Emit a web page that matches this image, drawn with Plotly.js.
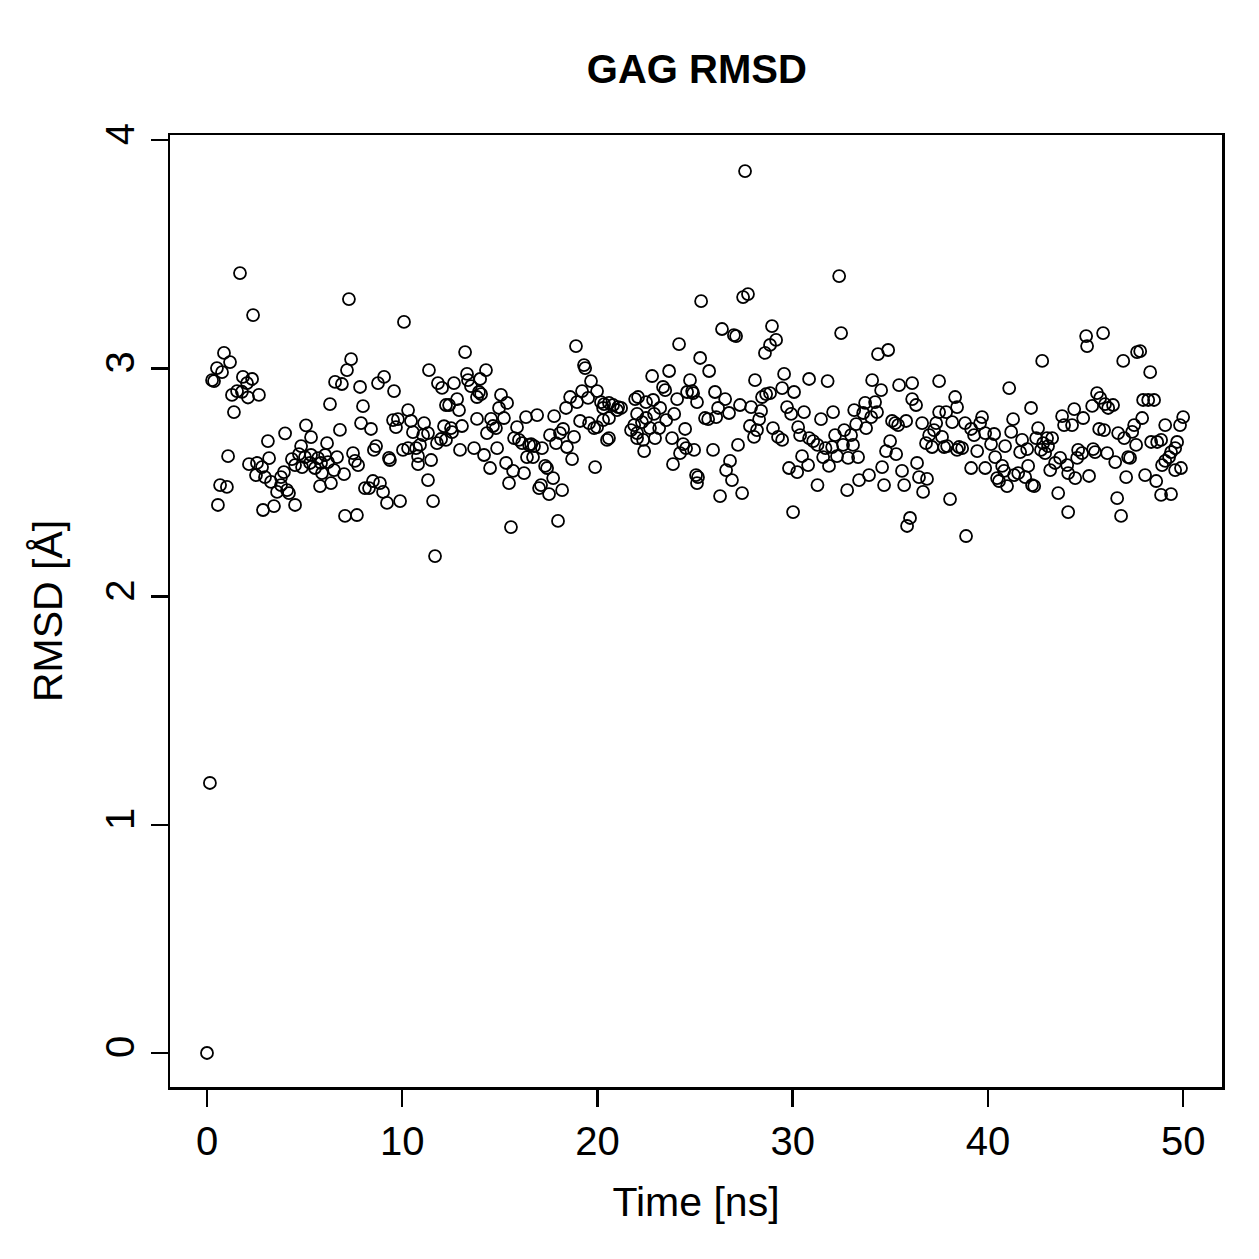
<!DOCTYPE html>
<html>
<head>
<meta charset="utf-8">
<script src="https://cdn.plot.ly/plotly-3.0.1.min.js"></script>
<style>html,body{margin:0;padding:0;background:#fff;}#chart{width:1259px;height:1259px;}</style>
</head>
<body>
<div id="chart"></div>
<script>
// Time [ns]
const time = [
0,0.15,1.69,2.36,0.87,1.18,0.51,0.77,0.26,0.36,1.84,2.31,2.05,1.54,1.28,1.79,2.10,2.66,1.38,3.12,1.08,2.15,2.56,2.82,3.18,2.51,2.97,3.28,3.59,0.67,1.02,0.56,2.87,3.43,
7.27,7.38,7.17,6.56,6.91,7.84,6.30,7.99,7.89,5.07,4.00,5.33,6.81,6.15,4.82,7.48,4.35,4.71,5.02,5.33,5.69,6.05,6.66,7.58,7.74,4.51,4.87,5.28,5.53,5.84,6.20,6.51,7.02,5.89,3.94,3.79,3.79,4.10,4.20,4.51,5.79,6.35,7.07,7.68,8.09,
10.09,11.37,9.07,8.76,9.58,11.83,12.04,10.30,12.24,9.53,9.78,9.68,10.45,11.12,10.55,11.07,11.32,12.14,8.40,8.66,8.55,9.32,9.37,10.04,10.30,10.71,10.91,10.81,11.78,11.99,11.48,10.81,8.50,8.86,8.30,9.02,9.22,9.89,11.32,11.58,11.68,
13.22,14.29,13.32,13.37,13.99,12.65,13.52,13.93,14.04,13.83,12.81,12.40,12.91,15.06,15.37,14.96,14.55,15.21,13.83,13.06,12.50,12.55,12.24,14.65,14.80,14.34,16.34,15.88,15.73,15.98,16.14,16.50,16.39,14.86,12.96,13.68,14.19,14.50,15.32,15.68,16.24,15.47,15.57,
18.90,19.31,19.37,19.67,19.98,19.21,18.60,19.52,18.95,18.39,20.18,20.34,20.29,20.59,16.91,17.78,19.11,19.57,19.83,19.98,20.29,20.59,18.24,18.08,17.57,18.80,17.88,18.44,18.70,16.60,16.75,17.16,16.70,17.32,17.42,17.73,17.11,17.01,17.52,18.19,19.88,20.59,20.49,17.98,
24.18,23.67,22.80,24.74,23.36,23.47,24.85,24.90,24.59,24.08,22.08,21.93,22.49,22.85,23.21,20.80,21.06,21.21,21.00,22.03,22.49,22.28,22.90,23.52,23.93,21.88,21.72,22.03,23.16,24.49,22.69,22.03,22.34,22.95,23.82,24.39,24.54,24.23,22.39,23.87,25.05,25.10,
25.31,27.46,27.71,26.38,26.99,27.10,28.94,29.15,28.84,28.58,25.26,25.72,28.07,25.10,26.02,26.54,26.18,26.74,27.30,27.87,28.38,28.43,28.64,28.84,25.51,25.67,26.08,28.28,27.81,28.17,28.02,28.99,29.25,27.20,25.92,26.79,26.59,26.89,25.15,24.95,26.28,27.41,27.56,
32.38,32.48,29.56,29.46,30.07,30.84,31.79,29.71,29.92,30.58,31.45,32.07,33.15,33.25,29.46,30.28,30.38,30.84,31.05,31.27,31.68,32.17,32.64,32.99,32.58,33.09,32.02,31.56,32.27,32.84,33.35,30.48,30.79,29.81,30.23,31.86,31.27,32.79,33.40,30.02,
34.37,34.89,34.07,34.53,35.45,36.12,37.50,36.12,36.32,33.71,34.22,34.32,33.61,34.02,33.76,35.09,35.25,35.40,35.81,36.63,37.50,37.35,37.24,36.99,36.83,37.14,37.65,37.76,34.99,34.78,35.30,36.37,34.58,35.60,33.91,36.47,36.88,34.68,35.71,36.68,36.01,35.86,
41.09,38.32,38.42,37.86,38.17,38.83,39.70,39.60,39.14,39.29,39.86,40.32,40.16,37.91,38.52,38.68,38.42,39.45,40.88,41.29,41.19,41.75,42.01,41.65,40.37,39.14,39.86,40.73,40.83,40.47,40.57,40.98,41.34,41.55,41.91,38.06,38.88,
45.03,45.08,45.90,42.78,42.21,45.59,45.75,46.00,46.16,45.34,44.42,43.80,44.88,43.90,44.31,42.57,45.70,45.95,42.47,43.03,43.29,42.83,43.08,42.72,42.93,44.62,44.82,45.39,45.49,46.11,44.57,43.70,43.44,43.19,44.06,44.11,44.47,45.18,42.06,42.26,42.37,43.60,44.11,
46.93,47.64,47.80,48.31,47.95,48.21,48.51,46.41,50.00,47.90,49.08,49.84,47.49,47.39,46.67,46.98,47.59,48.36,48.67,48.87,49.69,49.59,49.38,49.28,49.08,48.92,49.59,49.89,46.52,47.18,47.28,47.08,48.05,48.62,48.87,49.38,46.62,46.82
];
// RMSD [Å]
const rmsd = [
0,1.183,3.417,3.233,3.067,3.027,3.001,2.983,2.948,2.944,2.962,2.953,2.935,2.900,2.883,2.897,2.872,2.883,2.808,2.681,2.615,2.580,2.585,2.567,2.606,2.532,2.523,2.502,2.458,2.488,2.480,2.401,2.379,2.396,
3.303,3.040,2.992,2.940,2.931,2.918,2.843,2.834,2.760,2.750,2.715,2.698,2.730,2.672,2.659,2.628,2.602,2.624,2.611,2.620,2.606,2.620,2.611,2.594,2.576,2.576,2.567,2.585,2.563,2.585,2.589,2.554,2.536,2.541,2.545,2.523,2.488,2.466,2.453,2.401,2.484,2.497,2.353,2.357,2.475,
3.203,2.992,2.962,2.935,2.900,2.935,2.914,2.817,2.839,2.773,2.777,2.742,2.769,2.760,2.720,2.707,2.716,2.746,2.734,2.659,2.642,2.607,2.598,2.642,2.650,2.650,2.664,2.615,2.672,2.690,2.598,2.580,2.506,2.497,2.475,2.458,2.410,2.418,2.510,2.418,2.177,
3.071,2.992,2.975,2.948,2.953,2.935,2.922,2.896,2.887,2.874,2.865,2.839,2.817,2.883,2.848,2.826,2.778,2.782,2.778,2.747,2.738,2.720,2.686,2.747,2.738,2.716,2.786,2.742,2.694,2.686,2.672,2.664,2.611,2.650,2.642,2.650,2.620,2.563,2.585,2.550,2.541,2.497,2.304,
3.097,3.014,3.001,2.944,2.900,2.900,2.874,2.870,2.852,2.826,2.852,2.843,2.826,2.848,2.795,2.790,2.769,2.760,2.738,2.742,2.773,2.782,2.734,2.716,2.707,2.699,2.672,2.655,2.602,2.668,2.659,2.650,2.611,2.572,2.563,2.519,2.488,2.475,2.449,2.466,2.567,2.694,2.686,2.331,
3.106,2.988,2.966,2.948,2.918,2.904,2.900,2.891,2.896,2.865,2.874,2.865,2.852,2.861,2.826,2.839,2.830,2.826,2.817,2.800,2.782,2.764,2.800,2.773,2.800,2.751,2.729,2.716,2.738,2.734,2.738,2.694,2.686,2.694,2.694,2.668,2.650,2.628,2.637,2.580,2.532,2.497,
3.294,3.312,3.325,3.172,3.145,3.141,3.185,3.124,3.102,3.067,3.045,2.988,2.948,2.852,2.896,2.865,2.826,2.804,2.839,2.830,2.813,2.874,2.887,2.891,2.782,2.777,2.786,2.777,2.747,2.729,2.699,2.738,2.699,2.664,2.642,2.594,2.554,2.510,2.523,2.642,2.440,2.453,3.864,
3.404,3.154,2.975,2.913,2.896,2.953,2.944,2.830,2.800,2.808,2.777,2.808,2.817,2.755,2.686,2.742,2.707,2.694,2.681,2.664,2.650,2.707,2.729,2.707,2.664,2.664,2.655,2.611,2.615,2.607,2.611,2.615,2.576,2.563,2.545,2.572,2.488,2.466,2.510,2.370,
3.062,3.080,2.948,2.904,2.926,2.935,2.944,2.865,2.839,2.848,2.852,2.808,2.804,2.786,2.738,2.769,2.760,2.751,2.769,2.760,2.808,2.760,2.729,2.707,2.672,2.655,2.699,2.655,2.681,2.637,2.624,2.585,2.567,2.550,2.532,2.523,2.515,2.488,2.488,2.458,2.344,2.309,
2.913,2.874,2.830,2.808,2.764,2.760,2.786,2.760,2.734,2.707,2.716,2.712,2.668,2.659,2.655,2.650,2.642,2.637,2.659,2.777,2.721,2.686,2.646,2.633,2.611,2.563,2.563,2.572,2.550,2.519,2.506,2.484,2.532,2.541,2.523,2.427,2.265,
3.141,3.097,3.154,3.032,2.826,2.891,2.870,2.843,2.826,2.835,2.821,2.790,2.782,2.751,2.751,2.738,2.734,2.729,2.694,2.694,2.694,2.672,2.659,2.642,2.628,2.642,2.628,2.646,2.633,2.628,2.607,2.607,2.585,2.554,2.576,2.541,2.519,2.528,2.572,2.488,2.484,2.453,2.370,
3.032,3.071,3.075,2.983,2.861,2.861,2.861,2.839,2.786,2.782,2.751,2.751,2.751,2.721,2.716,2.694,2.664,2.677,2.677,2.686,2.677,2.650,2.633,2.611,2.594,2.576,2.554,2.563,2.589,2.611,2.607,2.523,2.532,2.506,2.445,2.449,2.431,2.353
];
const xTicks = [0, 10, 20, 30, 40, 50];
const yTicks = [0, 1, 2, 3, 4];
const chartTitle = "GAG RMSD";
const xLabel = "Time [ns]";
const yLabel = "RMSD [Å]";

const font = "Liberation Sans, Arial, Helvetica, sans-serif";

Plotly.newPlot("chart", [{
  type: "scatter",
  mode: "markers",
  x: time,
  y: rmsd,
  marker: {symbol: "circle-open", size: 12, color: "#000", line: {color: "#000", width: 1.8}},
  hoverinfo: "x+y"
}], {
  width: 1259, height: 1259,
  paper_bgcolor: "#fff", plot_bgcolor: "#fff",
  margin: {l: 170, r: 37, t: 135, b: 172},
  showlegend: false,
  font: {family: font, color: "#000", size: 41},
  title: {text: "<b>" + chartTitle + "</b>", x: 0.5535, xanchor: "center", y: 0.945, yanchor: "middle", font: {family: font, size: 40, color: "#000"}},
  xaxis: {
    range: [-1.895, 51.99], tickvals: xTicks, ticktext: xTicks.map(String),
    showgrid: false, zeroline: false,
    showline: true, mirror: true, linecolor: "#000", linewidth: 2.5,
    ticks: "outside", ticklen: 17, tickwidth: 2.5, tickcolor: "#000",
    tickfont: {family: font, size: 40, color: "#000"},
    ticklabelstandoff: 0,
    title: {text: xLabel, font: {family: font, size: 41, color: "#000"}, standoff: 26}
  },
  yaxis: {
    range: [-0.149, 4.022], tickvals: yTicks, ticktext: yTicks.map(String),
    showgrid: false, zeroline: false,
    showline: true, mirror: true, linecolor: "#000", linewidth: 2.5,
    ticks: "outside", ticklen: 17, tickwidth: 2.5, tickcolor: "#000",
    tickangle: -90,
    tickfont: {family: font, size: 40, color: "#000"},
    ticklabelstandoff: 1,
    title: {text: yLabel, font: {family: font, size: 41, color: "#000"}, standoff: 22}
  }
}, {displayModeBar: false, staticPlot: true});
</script>
</body>
</html>
